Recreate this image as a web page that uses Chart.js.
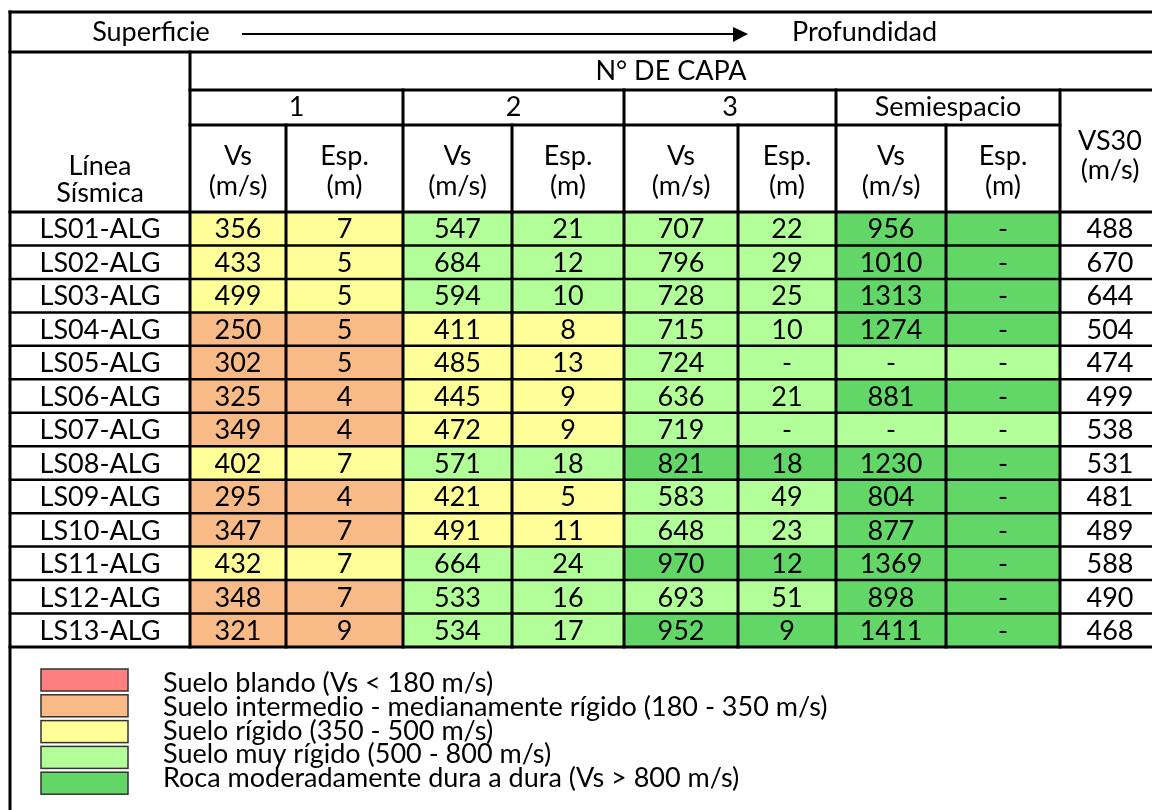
<!DOCTYPE html>
<html>
<head>
<meta charset="utf-8">
<script src="https://cdn.jsdelivr.net/npm/chart.js@4"></script>
<style>
  html, body { margin: 0; padding: 0; background: #fff; }
  #wrap { width: 1152px; height: 810px; }
</style>
</head>
<body>
<div id="wrap"><canvas id="tabla"></canvas></div>
<script>
const lineas = ['LS01-ALG', 'LS02-ALG', 'LS03-ALG', 'LS04-ALG', 'LS05-ALG', 'LS06-ALG', 'LS07-ALG',
  'LS08-ALG', 'LS09-ALG', 'LS10-ALG', 'LS11-ALG', 'LS12-ALG', 'LS13-ALG'];
const vsCapa1 = [356, 433, 499, 250, 302, 325, 349, 402, 295, 347, 432, 348, 321];
const espCapa1 = [7, 5, 5, 5, 5, 4, 4, 7, 4, 7, 7, 7, 9];
const vsCapa2 = [547, 684, 594, 411, 485, 445, 472, 571, 421, 491, 664, 533, 534];
const espCapa2 = [21, 12, 10, 8, 13, 9, 9, 18, 5, 11, 24, 16, 17];
const vsCapa3 = [707, 796, 728, 715, 724, 636, 719, 821, 583, 648, 970, 693, 952];
const espCapa3 = [22, 29, 25, 10, null, 21, null, 18, 49, 23, 12, 51, 9];
const vsSemi = [956, 1010, 1313, 1274, null, 881, null, 1230, 804, 877, 1369, 898, 1411];
const espSemi = [null, null, null, null, null, null, null, null, null, null, null, null, null];
const vs30 = [488, 670, 644, 504, 474, 499, 538, 531, 481, 489, 588, 490, 468];

const capas = ['1', '2', '3', 'Semiespacio'];
const limitesVs = [180, 350, 500, 800];
const clases = [
  'Suelo blando (Vs < 180 m/s)',
  'Suelo intermedio - medianamente rígido (180 - 350 m/s)',
  'Suelo rígido (350 - 500 m/s)',
  'Suelo muy rígido (500 - 800 m/s)',
  'Roca moderadamente dura a dura (Vs > 800 m/s)'
];
const coloresClase = ['#FF8080', '#F8BA86', '#FFFF99', '#B2FF99', '#63D668'];

// disposición (anchos de columna en px de la tabla)
const anchos = [180, 96, 117, 109, 112, 114, 98, 110, 114, 100];
const FONT = 'Lato, "DejaVu Sans", sans-serif';

function clase(v) {
  let k = 0;
  while (k < limitesVs.length && v > limitesVs[k] - (k < 2 ? 1 : 0)) k++;
  return k;
}

// color por capa: si Vs es "-", se hereda el de la capa anterior
const vsCapas = [vsCapa1, vsCapa2, vsCapa3, vsSemi];
const espCapas = [espCapa1, espCapa2, espCapa3, espSemi];
const colorCapa = vsCapas.map(() => []);
lineas.forEach((_, r) => {
  let prev = 0;
  vsCapas.forEach((serie, c) => {
    const k = serie[r] == null ? prev : clase(serie[r]);
    colorCapa[c].push(coloresClase[k]);
    prev = k;
  });
});

const columnas = [{ valores: lineas, colores: lineas.map(() => '#fff') }];
vsCapas.forEach((serie, c) => {
  columnas.push({ valores: serie, colores: colorCapa[c] });
  columnas.push({ valores: espCapas[c], colores: colorCapa[c] });
});
columnas.push({ valores: vs30, colores: lineas.map(() => '#fff') });

const datasets = columnas.map((col, i) => ({
  data: lineas.map(() => anchos[i]),
  backgroundColor: col.colores,
  borderWidth: 0,
  barPercentage: 1,
  categoryPercentage: 1,
  stack: 'tabla'
}));

const tablaPlugin = {
  id: 'tablaPlugin',
  afterDatasetsDraw(chart) {
    const { ctx, chartArea, scales: { x, y } } = chart;
    const W = chart.width;
    const bordes = [0];
    anchos.forEach(a => bordes.push(bordes[bordes.length - 1] + a));
    const px = i => x.getPixelForValue(bordes[i]);
    const banda = y.getPixelForValue(1) - y.getPixelForValue(0);
    const filaTop = r => y.getPixelForValue(r) - banda / 2;
    const hdr = [12, 52, 90, 125, chartArea.top];

    ctx.save();
    ctx.fillStyle = '#000';
    ctx.textAlign = 'center';
    ctx.textBaseline = 'middle';
    ctx.font = '27px ' + FONT;

    // textos de celdas
    columnas.forEach((col, i) => {
      const meta = chart.getDatasetMeta(i);
      meta.data.forEach((el, r) => {
        const v = col.valores[r];
        ctx.fillText(v == null ? '-' : String(v), (el.x + el.base) / 2, el.y + 1);
      });
    });

    // encabezado
    ctx.fillText('Superficie', 151, 32);
    ctx.textAlign = 'left';
    ctx.fillText('Profundidad', 792, 32);
    ctx.textAlign = 'center';
    ctx.fillText('N° DE CAPA', (px(1) + W) / 2, 71);
    capas.forEach((c, k) => ctx.fillText(c, (px(1 + 2 * k) + px(3 + 2 * k)) / 2, 107));
    ctx.fillText('Línea', (px(0) + px(1)) / 2, 166);
    ctx.fillText('Sísmica', (px(0) + px(1)) / 2, 193);
    for (let i = 1; i <= 8; i++) {
      const cx = (px(i) + px(i + 1)) / 2;
      ctx.fillText(i % 2 ? 'Vs' : 'Esp.', cx, 156);
      ctx.fillText(i % 2 ? '(m/s)' : '(m)', cx, 186);
    }
    const cx30 = (px(9) + px(10)) / 2;
    ctx.fillText('VS30', cx30, 141);
    ctx.fillText('(m/s)', cx30, 170);

    // flecha
    ctx.lineWidth = 2;
    ctx.strokeStyle = '#000';
    ctx.beginPath();
    ctx.moveTo(242, 34);
    ctx.lineTo(736, 34);
    ctx.stroke();
    ctx.beginPath();
    ctx.moveTo(733, 27);
    ctx.lineTo(748, 34);
    ctx.lineTo(733, 42);
    ctx.closePath();
    ctx.fill();

    // líneas de la tabla
    ctx.lineWidth = 3;
    ctx.lineCap = 'square';
    const linea = (x1, y1, x2, y2) => {
      ctx.beginPath(); ctx.moveTo(x1, y1); ctx.lineTo(x2, y2); ctx.stroke();
    };
    linea(px(0), hdr[0], W, hdr[0]);
    linea(px(0), hdr[1], W, hdr[1]);
    linea(px(1), hdr[2], W, hdr[2]);
    linea(px(1), hdr[3], px(9), hdr[3]);
    for (let r = 0; r <= lineas.length; r++) {
      ctx.lineWidth = (r === 0 || r === lineas.length) ? 3 : 2.5;
      linea(px(0), filaTop(r), W, filaTop(r));
    }
    ctx.lineWidth = 3;
    linea(px(0), hdr[0], px(0), chart.height);
    linea(px(1), hdr[1], px(1), chartArea.bottom);
    [3, 5, 7, 9].forEach(i => linea(px(i), hdr[2], px(i), chartArea.bottom));
    [2, 4, 6, 8].forEach(i => linea(px(i), hdr[3], px(i), chartArea.bottom));

    // leyenda de colores
    ctx.textAlign = 'left';
    ctx.textBaseline = 'alphabetic';
    ctx.lineWidth = 1.5;
    ctx.strokeStyle = '#333';
    clases.forEach((txt, k) => {
      const top = 669 + k * 25.8;
      ctx.fillStyle = coloresClase[k];
      ctx.fillRect(41, top, 87, 22);
      ctx.strokeRect(41, top, 87, 22);
      ctx.fillStyle = '#000';
      ctx.fillText(txt, 163, 692 + k * 23.8);
    });
    ctx.restore();
  }
};

new Chart(document.getElementById('tabla').getContext('2d'), {
  type: 'bar',
  data: { labels: lineas, datasets },
  options: {
    indexAxis: 'y',
    responsive: true,
    maintainAspectRatio: false,
    animation: false,
    layout: { padding: { left: 10, right: 0, top: 212, bottom: 163 } },
    scales: {
      x: { type: 'linear', min: 0, max: 1142, stacked: true, display: false },
      y: { type: 'category', stacked: true, display: false, offset: true }
    },
    plugins: { legend: { display: false }, tooltip: { enabled: false } }
  },
  plugins: [tablaPlugin]
});
</script>
</body>
</html>
